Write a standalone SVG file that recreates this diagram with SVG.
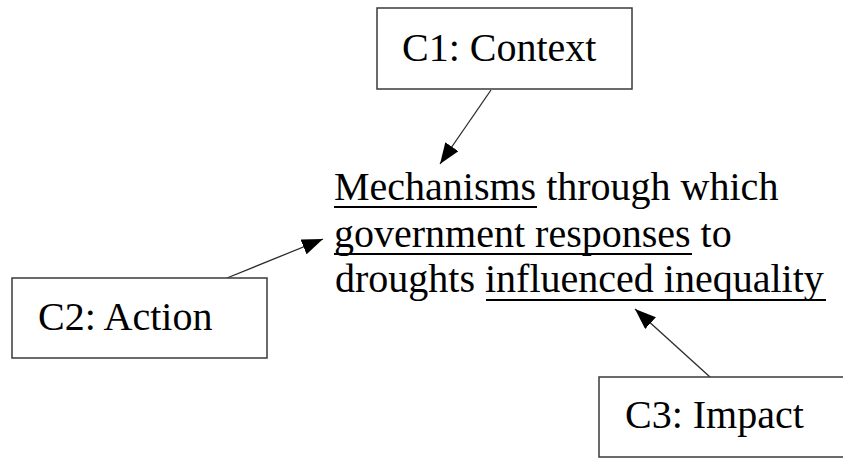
<svg xmlns="http://www.w3.org/2000/svg" width="843" height="458" viewBox="0 0 843 458">
  <style>
    .box { fill: #ffffff; stroke: #3a3a3a; stroke-width: 1.5; }
    .lbl { font-family: "Liberation Serif", "Times New Roman", serif; font-size: 40px; fill: #000000; }
    .conn { stroke: #2a2a2a; stroke-width: 1.3; fill: none; marker-end: url(#arrow); }
    .ul { stroke: #000000; stroke-width: 2; }
  </style>
  <defs>
    <marker id="arrow" markerUnits="userSpaceOnUse" markerWidth="22" markerHeight="16" refX="21" refY="8" orient="auto">
      <path d="M0,0 L21,8 L0,16 Z" fill="#000000"/>
    </marker>
  </defs>
  <rect width="843" height="458" fill="#ffffff"/>

  <g id="connectors">
    <line class="conn" x1="491" y1="90" x2="440" y2="164"/>
    <line class="conn" x1="227" y1="278" x2="323" y2="239"/>
    <line class="conn" x1="710" y1="377" x2="635" y2="309"/>
  </g>

  <g id="c1">
    <rect class="box" x="377" y="8" width="255" height="81"/>
    <text class="lbl" x="402" y="61">C1: Context</text>
  </g>

  <g id="c2">
    <rect class="box" x="12" y="278" width="255" height="80"/>
    <text class="lbl" x="38" y="330">C2: Action</text>
  </g>

  <g id="c3">
    <rect class="box" x="599" y="377" width="260" height="80"/>
    <text class="lbl" x="625" y="428">C3: Impact</text>
  </g>

  <g id="center">
    <text class="lbl" x="334" y="200">Mechanisms through which</text>
    <text class="lbl" x="334" y="247">government responses to</text>
    <text class="lbl" x="335" y="292">droughts influenced inequality</text>
    <line class="ul" x1="334" y1="207" x2="537" y2="207"/>
    <line class="ul" x1="334" y1="254" x2="692" y2="254"/>
    <line class="ul" x1="486" y1="300" x2="826" y2="300"/>
  </g>
</svg>
